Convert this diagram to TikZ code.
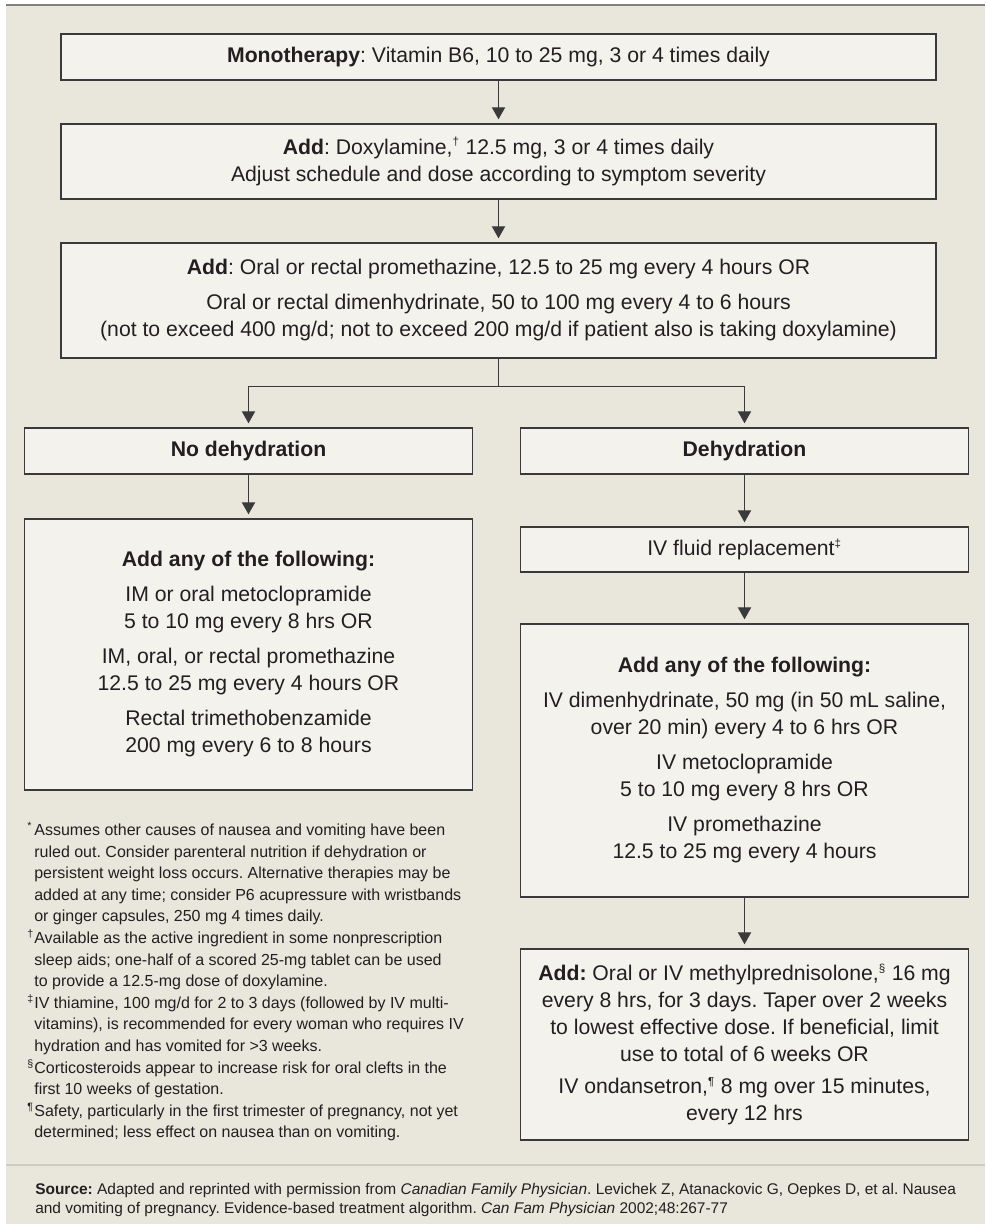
\documentclass[tikz,border=0pt]{standalone}
\usepackage{fontspec}
\setmainfont{Liberation Sans}
\usetikzlibrary{arrows.meta}
\frenchspacing

\definecolor{pagebg}{RGB}{233,230,220}
\definecolor{boxfill}{RGB}{243,242,237}
\definecolor{boxline}{RGB}{58,58,58}
\definecolor{inkgrey}{RGB}{35,31,32}
\definecolor{ruleline}{RGB}{128,128,128}
\definecolor{sepline}{RGB}{206,203,194}

\tikzset{
  stepbox/.style={draw=boxline, fill=boxfill, line width=1.1pt, align=center, inner sep=0pt,
    text=inkgrey, font=\fontsize{15.9}{20.25}\selectfont},
  widebox/.style={stepbox, minimum width=656.25pt},
  halfbox/.style={stepbox, minimum width=336pt},
  flowline/.style={draw=boxline, line width=0.8pt, -{Triangle[width=10pt,length=9pt]}, shorten >=3pt},
  notetext/.style={align=left, inner sep=0pt, text=inkgrey}
}
\newcommand{\supmark}[1]{\textsuperscript{\scalebox{0.78}{#1}}}
\newcommand{\fnsym}[1]{\makebox[5.3pt][l]{\textsuperscript{#1}}}

\begin{document}
\begin{tikzpicture}[x=0.75pt,y=0.75pt,yscale=-1,xscale=1]
%set diagram left start at 0, and has height of 1224
\useasboundingbox (0,0) rectangle (985,1224);

%Shape: Page
\fill[white] (0,0) rectangle (985,1224);
\fill[pagebg] (6,5) rectangle (985,1224);
\draw[ruleline, line width=1.5pt] (6,5) -- (985,5);
\draw[sepline, line width=1.5pt] (6,1165) -- (985,1165);

%Flowchart: Process
\node[widebox, minimum height=34.5pt] (mono) at (498.5,57) {\textbf{Monotherapy}: Vitamin B6, 10 to 25 mg, 3 or 4 times daily};
%Flowchart: Process
\node[widebox, minimum height=56.25pt] (doxy) at (498.5,161.5) {\textbf{Add}: Doxylamine,\supmark{†} 12.5 mg, 3 or 4 times daily\\
  Adjust schedule and dose according to symptom severity};
%Flowchart: Process
\node[widebox, minimum height=86.25pt] (prom) at (498.5,300.5) {\textbf{Add}: Oral or rectal promethazine, 12.5 to 25 mg every 4 hours OR\\[6pt]
  Oral or rectal dimenhydrinate, 50 to 100 mg every 4 to 6 hours\\
  (not to exceed 400 mg/d; not to exceed 200 mg/d if patient also is taking doxylamine)};

%Flowchart: Process
\node[halfbox, minimum height=34.5pt] (nohyd) at (248.5,451) {\textbf{No dehydration}};
%Flowchart: Process
\node[halfbox, minimum height=203.25pt] (addleft) at (248.5,654.5) {\textbf{Add any of the following:}\\[6pt]
  IM or oral metoclopramide\\ 5 to 10 mg every 8 hrs OR\\[6pt]
  IM, oral, or rectal promethazine\\ 12.5 to 25 mg every 4 hours OR\\[6pt]
  Rectal trimethobenzamide\\ 200 mg every 6 to 8 hours};

%Flowchart: Process
\node[halfbox, minimum height=34.5pt] (dehyd) at (744.5,451) {\textbf{Dehydration}};
%Flowchart: Process
\node[halfbox, minimum height=33.75pt] (ivfluid) at (744.5,549.5) {IV fluid replacement\supmark{‡}};
%Flowchart: Process
\node[halfbox, minimum height=204.75pt] (addright) at (744.5,760.5) {\textbf{Add any of the following:}\\[6pt]
  IV dimenhydrinate, 50 mg (in 50 mL saline,\\ over 20 min) every 4 to 6 hrs OR\\[6pt]
  IV metoclopramide\\ 5 to 10 mg every 8 hrs OR\\[6pt]
  IV promethazine\\ 12.5 to 25 mg every 4 hours};
%Flowchart: Process
\node[halfbox, minimum height=143.25pt] (steroid) at (744.5,1044.5) {\textbf{Add:} Oral or IV methylprednisolone,\supmark{§} 16 mg\\
  every 8 hrs, for 3 days. Taper over 2 weeks\\
  to lowest effective dose. If beneficial, limit\\
  use to total of 6 weeks OR\\[4pt]
  IV ondansetron,\supmark{¶} 8 mg over 15 minutes,\\ every 12 hrs};

%Straight Lines
\draw[flowline] (mono.south) -- (doxy.north);
\draw[flowline] (doxy.south) -- (prom.north);
\path (prom.south) ++(0,28) coordinate (split);
\draw[flowline] (prom.south) -- (split) -| (nohyd.north);
\draw[flowline] (split) -| (dehyd.north);
\draw[flowline] (nohyd.south) -- (addleft.north);
\draw[flowline] (dehyd.south) -- (ivfluid.north);
\draw[flowline] (ivfluid.south) -- (addright.north);
\draw[flowline] (addright.south) -- (steroid.north);

% Text Node
\node[notetext, anchor=north west, font=\fontsize{12}{16.2}\selectfont] (notes) at (27,822) {%
\fnsym{*}Assumes other causes of nausea and vomiting have been\\
\fnsym{}ruled out. Consider parenteral nutrition if dehydration or\\
\fnsym{}persistent weight loss occurs. Alternative therapies may be\\
\fnsym{}added at any time; consider P6 acupressure with wristbands\\
\fnsym{}or ginger capsules, 250 mg 4 times daily.\\
\fnsym{†}Available as the active ingredient in some nonprescription\\
\fnsym{}sleep aids; one-half of a scored 25-mg tablet can be used\\
\fnsym{}to provide a 12.5-mg dose of doxylamine.\\
\fnsym{‡}IV thiamine, 100 mg/d for 2 to 3 days (followed by IV multi-\\
\fnsym{}vitamins), is recommended for every woman who requires IV\\
\fnsym{}hydration and has vomited for >3 weeks.\\
\fnsym{§}Corticosteroids appear to increase risk for oral clefts in the\\
\fnsym{}first 10 weeks of gestation.\\
\fnsym{¶}Safety, particularly in the first trimester of pregnancy, not yet\\
\fnsym{}determined; less effect on nausea than on vomiting.};

% Text Node
\node[notetext, anchor=north west, font=\fontsize{11.6}{13.9}\selectfont] (source) at (35,1183) {%
\textbf{Source:} Adapted and reprinted with permission from \textit{Canadian Family Physician}. Levichek Z, Atanackovic G, Oepkes D, et al. Nausea\\
and vomiting of pregnancy. Evidence-based treatment algorithm. \textit{Can Fam Physician} 2002;48:267-77};

\end{tikzpicture}
\end{document}
